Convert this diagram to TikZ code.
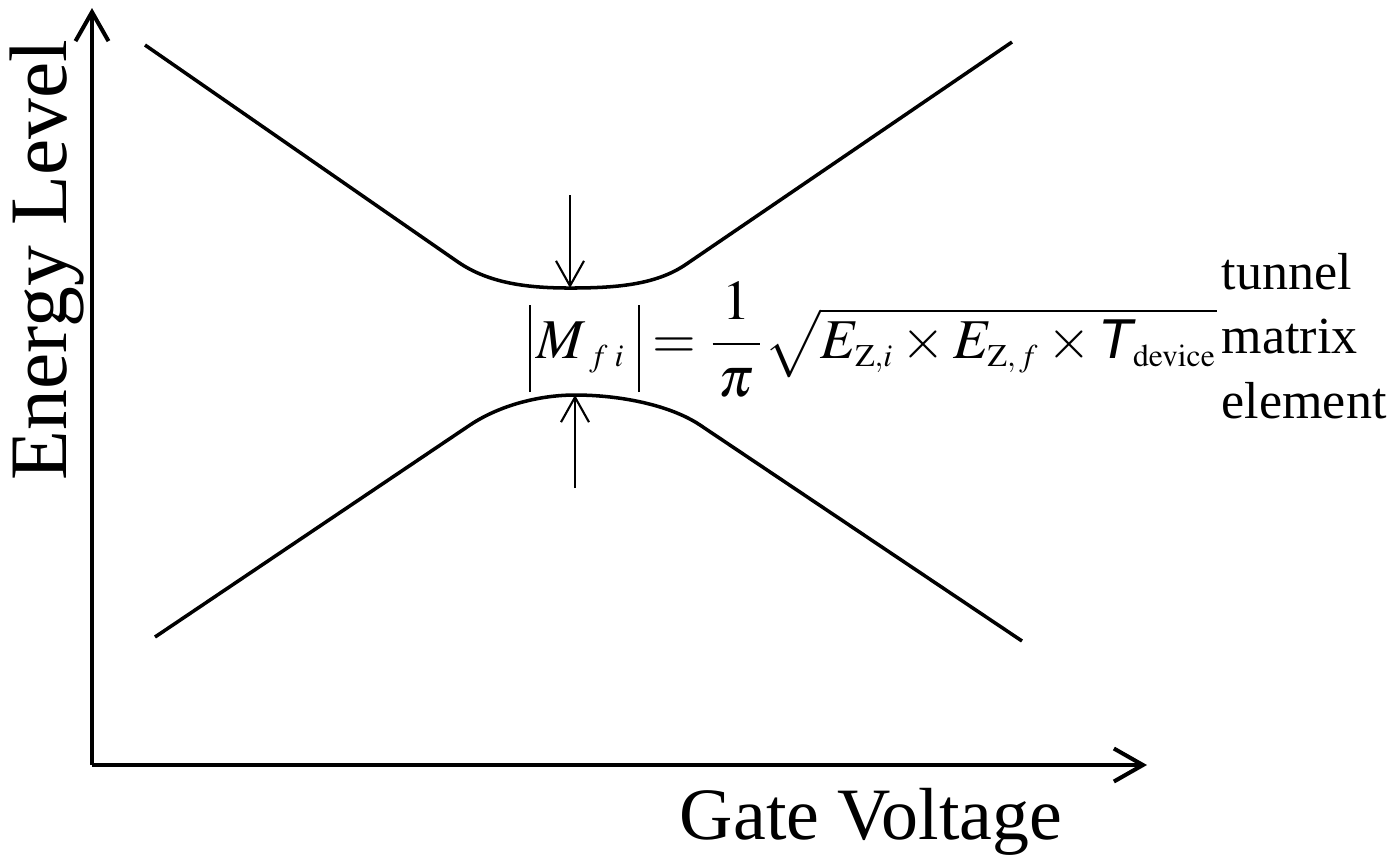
\documentclass[tikz,border=0pt]{standalone}
\usepackage{amsmath}
\usepackage{mathptmx}
\usepackage{fontspec}
\setmainfont{Liberation Serif}
\newfontfamily\sansit{Liberation Sans}[ItalicFont={* Italic}]
\DeclareMathSizes{16}{16}{9}{7}
\newcommand{\absbar}{\rule[-9.7pt]{0.55pt}{24.8pt}}
\usetikzlibrary{arrows.meta,positioning,calc}

\begin{document}
\begin{tikzpicture}[
    x=0.01cm, y=-0.01cm,
    axis/.style={line width=1.15pt, -{Straight Barb[length=2.9mm, width=3.3mm, line width=1.15pt]}},
    level/.style={line width=1pt},
    gap/.style={line width=0.6pt, -{Straight Barb[length=2.5mm, width=2.8mm, line width=0.6pt]}},
    label/.style={inner sep=0pt, font=\fontsize{21}{25}\selectfont},
  ]
    \useasboundingbox (0,0) rectangle (1394,859);

    % axes
    \coordinate (origin) at (92,765);
    \coordinate (ytop) at (92,8);
    \coordinate (xend) at (1147,765);
    \draw[axis] (origin) -- (ytop);
    \draw[axis] (origin) -- (xend);
    \node[label, rotate=90, anchor=base, font=\fontsize{23.2}{28}\selectfont] (ylab) at (66,260) {Energy Level};
    \node[label] (xlab) at (871,822) {Gate Voltage};

    % upper level
    \coordinate (ua) at (145,45);
    \coordinate (ub) at (458,262);
    \coordinate (umin) at (570,288);
    \coordinate (uc) at (685,265);
    \coordinate (ud) at (1012,42);
    \draw[level] (ua) -- (ub) .. controls (490,284) and (530,288) .. (umin)
        .. controls (615,288) and (655,285) .. (uc) -- (ud);

    % lower level
    \coordinate (la) at (155,637);
    \coordinate (lb) at (470,425);
    \coordinate (lmax) at (575,395);
    \coordinate (lc) at (700,425);
    \coordinate (ld) at (1022,641);
    \draw[level] (la) -- (lb) .. controls (500,405) and (540,395) .. (lmax)
        .. controls (620,395) and (670,405) .. (lc) -- (ld);

    % gap arrows
    \coordinate (utail) at (570,195);
    \coordinate (ltail) at (575,488);
    \draw[gap] (utail) -- (umin);
    \draw[gap] (ltail) -- (lmax);

    \node[label, anchor=base west, font=\fontsize{16}{19.2}\selectfont] (formula) at (528,358)
        {$\mathopen{\absbar}\,M_{\;f\;i}\;\mathclose{\absbar} = \dfrac{\,1\,}{\,\pi\,}\sqrt{E_{\mathrm{Z},i}\times E_{\mathrm{Z},\,f}\times \text{\sansit\itshape T}_{\mathrm{device}}}$};
    \node[label, font=\fontsize{14.8}{18.4}\selectfont, align=left, anchor=west] (name) at (1221,336)
        {tunnel\\matrix\\element};
  \end{tikzpicture}
\end{document}
